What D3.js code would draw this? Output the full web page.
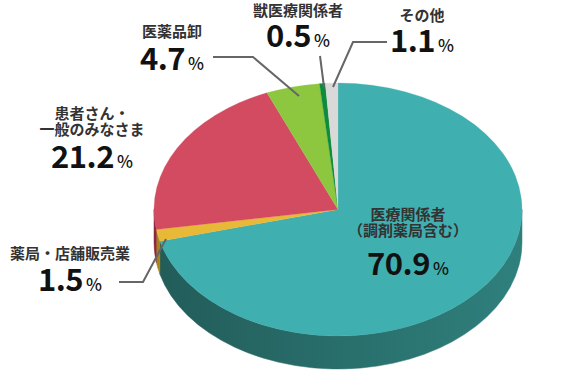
<!DOCTYPE html>
<html>
<head>
<meta charset="utf-8">
<script src="https://cdn.jsdelivr.net/npm/d3@7"></script>
<style>
  html, body { margin: 0; padding: 0; background: #fff; }
  svg { display: block; }
  text { font-family: "Noto Sans CJK JP", "Noto Sans", sans-serif; }
</style>
</head>
<body>
<svg id="chart" width="570" height="378"></svg>
<script>
// ---- data ----
const categories = ["医療関係者（調剤薬局含む）", "薬局・店舗販売業", "患者さん・一般のみなさま", "医薬品卸", "獣医療関係者", "その他"];
const values = [70.9, 1.5, 21.2, 4.7, 0.5, 1.1];
const valueLabels = ["70.9", "1.5", "21.2", "4.7", "0.5", "1.1"];
const nameLines = [["医療関係者", "（調剤薬局含む）"], ["薬局・店舗販売業"], ["患者さん・", "一般のみなさま"], ["医薬品卸"], ["獣医療関係者"], ["その他"]];
const topColors = ["#40AFAF", "#E8B936", "#D34B60", "#8DC63F", "#0E8B3C", "#D9D9D9"];
const sideColors = ["url(#tealSide)", "#A8831C", "#8A2A3B", "#5F8A2A", "#0A5E29", "#A0A0A0"];

// label layout: [centerX, firstLineBaseline, numberBaseline]
const labelPos = [[408, 220, 275], [70, 259, 291], [92, 119, 168], [172, 37, 70], [298, 16, 47], [422, 21, 52]];
// leader lines
const leaders = [null, [[119, 282], [143, 282], [166, 239]], null, [[213, 57], [253, 57], [299, 96]], [[320, 56], [324, 87]], [[387, 42], [353, 42], [333, 87]]];

// ---- geometry ----
const cx = 338, cy = 209.5, rx = 184, ry = 126.5, depth = 33;
const svg = d3.select("#chart");

const defs = svg.append("defs");
const g1 = defs.append("linearGradient").attr("id", "tealSide")
  .attr("gradientUnits", "userSpaceOnUse").attr("x1", cx - rx).attr("x2", cx + rx).attr("y1", 0).attr("y2", 0);
g1.append("stop").attr("offset", "0%").attr("stop-color", "#225C59");
g1.append("stop").attr("offset", "100%").attr("stop-color", "#2F807D");

const pie = d3.pie().sort(null).value(d => d)(values);
const pt = (a, dy = 0) => [cx + rx * Math.sin(a), cy - ry * Math.cos(a) + dy];

// side walls (front half, angles PI/2 .. 3PI/2)
const sideG = svg.append("g");
pie.forEach((p, i) => {
  const a0 = Math.max(p.startAngle, Math.PI / 2), a1 = Math.min(p.endAngle, 3 * Math.PI / 2);
  if (a0 >= a1) return;
  const s0 = pt(a0), s1 = pt(a1), b1 = pt(a1, depth), b0 = pt(a0, depth);
  const large = (a1 - a0) > Math.PI ? 1 : 0;
  const d = `M${s0[0]},${s0[1]} A${rx},${ry} 0 ${large} 1 ${s1[0]},${s1[1]} L${b1[0]},${b1[1]} A${rx},${ry} 0 ${large} 0 ${b0[0]},${b0[1]} Z`;
  sideG.append("path").attr("d", d).attr("fill", sideColors[i]).attr("stroke", sideColors[i]).attr("stroke-width", 0.5);
});

// top face
const arc = d3.arc().innerRadius(0).outerRadius(rx);
svg.append("g")
  .attr("transform", `translate(${cx},${cy}) scale(1,${ry / rx})`)
  .selectAll("path").data(pie).join("path")
  .attr("d", arc)
  .attr("fill", (d, i) => topColors[i])
  .attr("stroke", (d, i) => topColors[i])
  .attr("stroke-width", 0.3);

// leader lines
const line = d3.line();
leaders.forEach(l => {
  if (!l) return;
  svg.append("path").attr("d", line(l)).attr("fill", "none")
    .attr("stroke", "#666").attr("stroke-width", 2);
});

// labels
categories.forEach((c, i) => {
  const [x, y0, yn] = labelPos[i];
  nameLines[i].forEach((s, k) => {
    svg.append("text").attr("x", x).attr("y", y0 + k * 16)
      .attr("text-anchor", "middle").attr("font-size", 15).attr("font-weight", 700)
      .attr("fill", "#333").text(s);
  });
  const t = svg.append("text").attr("x", x).attr("y", yn).attr("text-anchor", "middle").attr("fill", "#111");
  t.append("tspan").attr("font-size", 31).attr("font-weight", 700).attr("letter-spacing", -0.5).text(valueLabels[i]);
  t.append("tspan").attr("font-size", 17).attr("font-weight", 500).attr("dx", 3).text("%");
});
</script>
</body>
</html>
